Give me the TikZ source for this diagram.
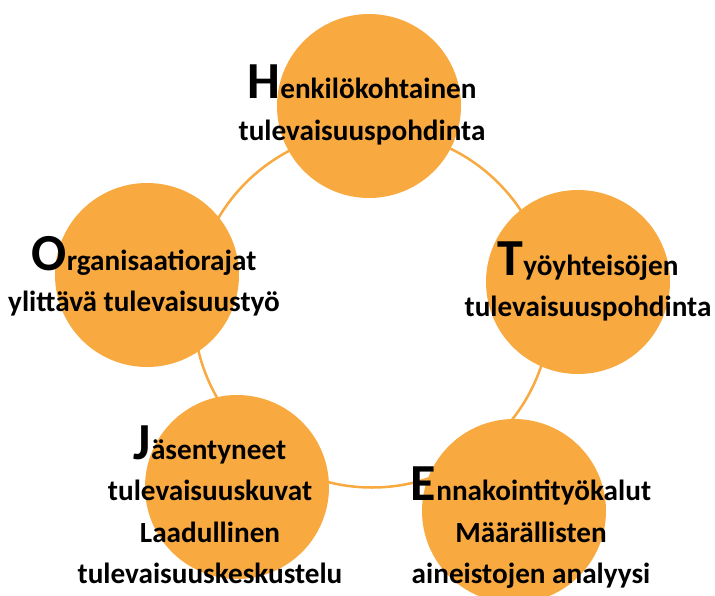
\documentclass[tikz,border=0pt]{standalone}
\usepackage{fontspec}
\setmainfont{Carlito}
\definecolor{hotorange}{HTML}{F8A940}
\newcommand{\firstletter}[1]{{\fontsize{52}{41.5}\selectfont #1}}
\begin{document}
\begin{tikzpicture}[x=1pt,y=-1pt,
  ringline/.style={circle, draw=hotorange, line width=2.5pt, minimum size=357pt, inner sep=0pt},
  disc/.style={circle, fill=hotorange, draw=none, minimum size=184pt, inner sep=0pt},
  lbl/.style={align=center, anchor=base, inner sep=0pt, text=black,
    font=\fontsize{29.2}{41.5}\selectfont\bfseries}]
\useasboundingbox (0,0) rectangle (715,595);

% ring joining the five themes
\node[ringline] (ring) at (372,309) {};

% theme discs
\node[disc] (h) at (369,106) {};
\node[disc] (t) at (578,282) {};
\node[disc] (e) at (514,511) {};
\node[disc] (j) at (237,487) {};
\node[disc] (o) at (147,275) {};

% theme texts (placed by the baseline of their last line)
\node[lbl] (htext) at (362,140) {\firstletter{H}enkilökohtainen\\tulevaisuuspohdinta};
\node[lbl] (ttext) at (588,316.5) {\firstletter{T}yöyhteisöjen\\tulevaisuuspohdinta};
\node[lbl] (etext) at (531,583.5) {\firstletter{E}nnakointityökalut\\Määrällisten\\aineistojen analyysi};
\node[lbl] (jtext) at (210,583.5) {\firstletter{J}äsentyneet\\tulevaisuuskuvat\\Laadullinen\\tulevaisuuskeskustelu};
\node[lbl] (otext) at (144,311.5) {\firstletter{O}rganisaatiorajat\\ylittävä tulevaisuustyö};
\end{tikzpicture}
\end{document}
